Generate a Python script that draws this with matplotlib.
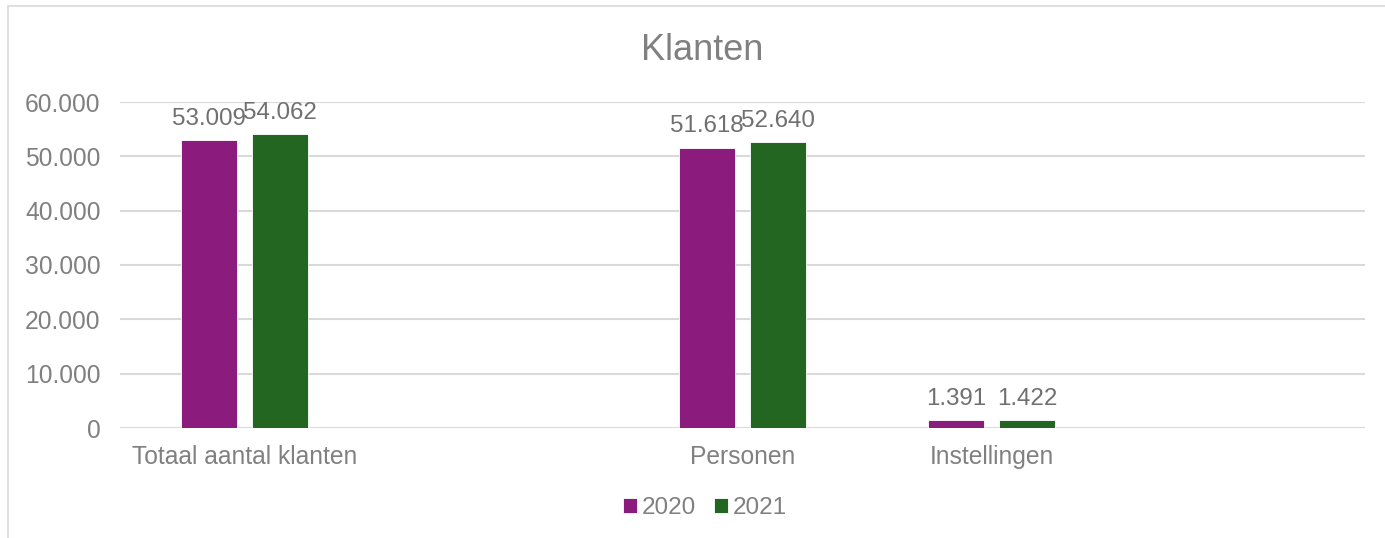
import numpy as np
import matplotlib
matplotlib.use("Agg")
import matplotlib.pyplot as plt
from matplotlib.patches import Rectangle

# Data (5 category slots, two of them empty)
categories = ["Totaal aantal klanten", "", "Personen", "Instellingen", ""]
values_2020 = [53009, np.nan, 51618, 1391, np.nan]
values_2021 = [54062, np.nan, 52640, 1422, np.nan]
series_labels = ["2020", "2021"]

purple = "#8B1C7E"
green = "#236621"
grey_text = "#808080"
label_text = "#707070"
grid_col = "#d9d9d9"

plt.rcParams['font.family'] = ['Liberation Sans', 'DejaVu Sans']

fig = plt.figure(figsize=(13.85, 5.38), dpi=100)
ax = fig.add_axes([120 / 1385, 1 - 428 / 538, 1245 / 1385, (428 - 102) / 538])

x = np.arange(len(categories))
width = 0.221
offset = 0.1426


def fmt(v):
    return f"{int(v):,}".replace(",", ".")


for vals, off, col, lab in [(values_2020, -offset, purple, series_labels[0]),
                            (values_2021, offset, green, series_labels[1])]:
    vals = np.array(vals, dtype=float)
    mask = ~np.isnan(vals)
    bars = ax.bar(x[mask] + off, vals[mask], width, color=col, label=lab,
                  edgecolor="white", linewidth=0.6, zorder=3)
    for b, v in zip(bars, vals[mask]):
        ax.annotate(fmt(v), (b.get_x() + b.get_width() / 2, v),
                    xytext=(0, 7.5), textcoords="offset points",
                    ha="center", va="bottom", fontsize=17.4, color=label_text)

ax.set_xlim(-0.5, len(categories) - 0.5)
ax.set_ylim(0, 60000)
ax.set_yticks(np.arange(0, 60001, 10000))
ax.set_yticklabels([fmt(t) for t in np.arange(0, 60001, 10000)])
ax.set_xticks(x)
ax.set_xticklabels(categories)
ax.yaxis.grid(True, color=grid_col, linewidth=1.5, zorder=0)
ax.set_axisbelow(True)
for s in ax.spines.values():
    s.set_visible(False)
ax.tick_params(axis="both", length=0, labelsize=17.7, labelcolor=grey_text)
ax.tick_params(axis="y", pad=14)
ax.tick_params(axis="x", pad=12)

fig.text(702 / 1385, 1 - 50 / 538, "Klanten", ha="center", va="center",
         fontsize=26, color=grey_text)

leg = fig.legend(loc="center", bbox_to_anchor=(705 / 1385, 1 - 508 / 538),
                 ncol=2, frameon=False, fontsize=17.5, handlelength=0.55,
                 handleheight=0.55, handletextpad=0.2, columnspacing=0.75)
for t in leg.get_texts():
    t.set_color(grey_text)

# chart area border (only left and top visible in the reference crop)
fig.patches.append(Rectangle((8 / 1385, -0.5), 2, 0.5 + 1 - 6 / 538,
                             transform=fig.transFigure, fill=False,
                             edgecolor=grid_col, linewidth=1.2))

fig.savefig("out.png", dpi=100, facecolor="white")
